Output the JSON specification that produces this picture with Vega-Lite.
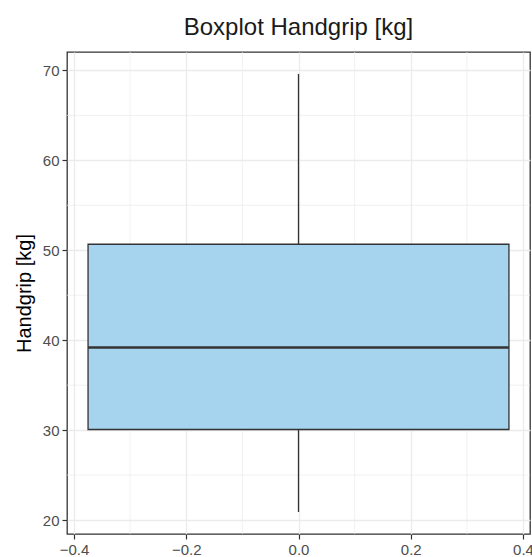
{
  "$schema": "https://vega.github.io/schema/vega-lite/v6.json",
  "width": 463,
  "height": 482,
  "autosize": "none",
  "padding": {"left": 67, "top": 52, "right": 2, "bottom": 23},
  "background": "white",
  "title": {"text": "Boxplot Handgrip [kg]", "anchor": "middle", "fontSize": 24, "font": "Liberation Sans", "fontWeight": "normal", "color": "#1A1A1A", "offset": 12},
  "config": {
    "view": {"stroke": "#333333", "strokeWidth": 1.3},
    "axis": {
      "labelFont": "Liberation Sans",
      "titleFont": "Liberation Sans",
      "labelFontSize": 15,
      "labelColor": "#4D4D4D",
      "tickColor": "#333333",
      "tickSize": 5,
      "tickWidth": 1.2,
      "labelPadding": 3,
      "gridColor": "#EBEBEB",
      "gridWidth": 1.3,
      "domain": false,
      "titleFontSize": 20,
      "titleFontWeight": "normal",
      "titleColor": "#000000"
    }
  },
  "datasets": {
    "stats": [{"group": "Handgrip", "box_left": -0.375, "box_right": 0.375, "center": 0, "lower": 20.9, "q1": 30.07, "median": 39.19, "q3": 50.67, "upper": 69.6}],
    "xminor": [{"v": -0.3}, {"v": -0.1}, {"v": 0.1}, {"v": 0.3}],
    "yminor": [{"v": 25}, {"v": 35}, {"v": 45}, {"v": 55}, {"v": 65}]
  },
  "layer": [
    {
      "data": {"name": "xminor"},
      "mark": {"type": "rule", "color": "#EBEBEB", "strokeWidth": 0.7},
      "encoding": {
        "x": {"field": "v", "type": "quantitative", "scale": {"domain": [-0.4125, 0.4125], "nice": false, "zero": false},
          "axis": {"values": [-0.4, -0.2, 0, 0.2, 0.4], "format": ".1f", "title": null, "grid": true}}
      }
    },
    {
      "data": {"name": "yminor"},
      "mark": {"type": "rule", "color": "#EBEBEB", "strokeWidth": 0.7},
      "encoding": {
        "y": {"field": "v", "type": "quantitative", "scale": {"domain": [18.45, 72.05], "nice": false, "zero": false},
          "axis": {"values": [20, 30, 40, 50, 60, 70], "title": "Handgrip [kg]", "titlePadding": 8, "grid": true}}
      }
    },
    {
      "data": {"name": "stats"},
      "mark": {"type": "rule", "color": "#333333", "strokeWidth": 1.3},
      "encoding": {
        "x": {"field": "center", "type": "quantitative"},
        "y": {"field": "lower", "type": "quantitative"},
        "y2": {"field": "upper"}
      }
    },
    {
      "data": {"name": "stats"},
      "mark": {"type": "rect", "fill": "#A6D3EE", "stroke": "#333333", "strokeWidth": 1.3},
      "encoding": {
        "x": {"field": "box_left", "type": "quantitative"},
        "x2": {"field": "box_right"},
        "y": {"field": "q1", "type": "quantitative"},
        "y2": {"field": "q3"}
      }
    },
    {
      "data": {"name": "stats"},
      "mark": {"type": "rule", "color": "#333333", "strokeWidth": 2.6},
      "encoding": {
        "x": {"field": "box_left", "type": "quantitative"},
        "x2": {"field": "box_right"},
        "y": {"field": "median", "type": "quantitative"}
      }
    }
  ]
}
